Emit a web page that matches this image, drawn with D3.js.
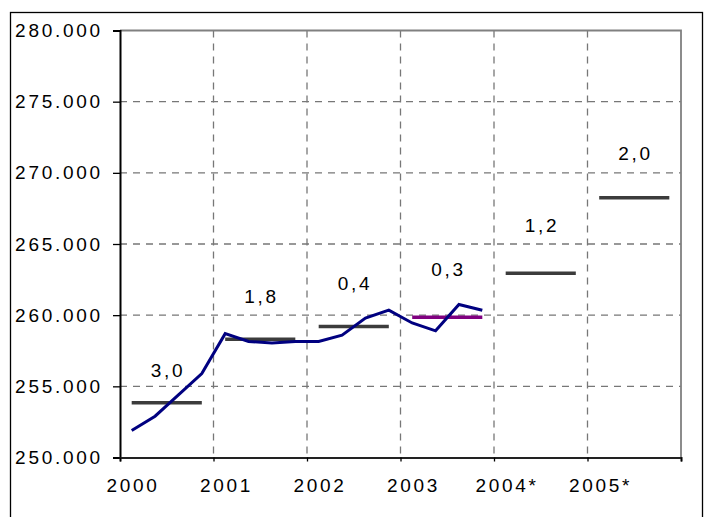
<!DOCTYPE html>
<html>
<head>
<meta charset="utf-8">
<script src="https://cdn.jsdelivr.net/npm/d3@7"></script>
<style>
  html, body { margin: 0; padding: 0; background: #fff; }
  svg { display: block; }
  text { font-family: "Liberation Sans", Arial, sans-serif; fill: #000; }
</style>
</head>
<body>
<svg id="chart" width="704" height="517"></svg>
<script>
// ---- data ----
const years = ["2000", "2001", "2002", "2003", "2004*", "2005*"];
// quarterly values (thousands)
const quarterly = [251.9, 252.9, 254.4, 255.9, 258.7, 258.15, 258.05, 258.15,
                   258.15, 258.6, 259.8, 260.35, 259.45, 258.9, 260.75, 260.35];
// annual averages (thousands)
const annual = [253.85, 258.3, 259.2, 259.85, 262.95, 268.25];
// growth rates shown above each year
const growth = ["3,0", "1,8", "0,4", "0,3", "1,2", "2,0"];
// vertical position of each growth label (in value units)
const growthAt = [256.1, 261.3, 262.25, 263.2, 266.3, 271.4];
const yTicks = [250, 255, 260, 265, 270, 275, 280];

// ---- layout ----
const svg = d3.select("#chart");
const mLeft = 120, mRight = 681, mTop = 30.5, mBottom = 457.5;
const qPerYear = 4;
const fs = 19, ls = 2.7;

const x = d3.scaleLinear().domain([0, years.length * qPerYear]).range([mLeft, mRight]);
const y = d3.scaleLinear().domain([250, 280]).range([mBottom, mTop]);

const de = d3.formatLocale({decimal: ",", thousands: ".", grouping: [3], currency: ["", "€"]});
const fmt = de.format(",.0f");

// outer border
svg.append("rect").attr("x", 10.5).attr("y", 12.5).attr("width", 692).attr("height", 520)
  .attr("fill", "none").attr("stroke", "#000").attr("stroke-width", 1.3);

// gridlines
const grid = svg.append("g");
grid.selectAll("line.h").data(yTicks.filter(t => t > 250 && t < 280)).join("line")
  .attr("x1", mLeft).attr("x2", mRight)
  .attr("y1", d => y(d)).attr("y2", d => y(d))
  .attr("stroke", "#777").attr("stroke-width", 1.3).attr("stroke-dasharray", "7,6");
grid.selectAll("line.v").data(d3.range(1, years.length)).join("line")
  .attr("x1", d => x(d * qPerYear)).attr("x2", d => x(d * qPerYear))
  .attr("y1", mTop).attr("y2", mBottom)
  .attr("stroke", "#777").attr("stroke-width", 1.3).attr("stroke-dasharray", "7,6");

// top & right plot border
svg.append("path").attr("d", `M${mLeft},${mTop}H${mRight}V${mBottom}`)
  .attr("fill", "none").attr("stroke", "#808080").attr("stroke-width", 1.8);

// y axis
const yAxis = d3.axisLeft(y).tickValues(yTicks).tickSize(7).tickFormat(d => fmt(d * 1000));
const gy = svg.append("g").attr("transform", `translate(${mLeft},0)`).call(yAxis);
gy.select(".domain").attr("stroke", "#000").attr("stroke-width", 2);
gy.selectAll(".tick line").attr("stroke", "#000").attr("stroke-width", 1.3);
gy.selectAll(".tick text").attr("x", -20 + ls).attr("font-size", fs).attr("letter-spacing", ls)
  .attr("font-family", "Liberation Sans, Arial, sans-serif").attr("fill", "#000");

// x axis
const xAxis = d3.axisBottom(x).tickValues(d3.range(0, years.length + 1).map(d => d * qPerYear))
  .tickSize(4).tickFormat("");
const gx = svg.append("g").attr("transform", `translate(0,${mBottom})`).call(xAxis);
gx.select(".domain").attr("stroke", "#222").attr("stroke-width", 2);
gx.selectAll(".tick line").attr("stroke", "#000").attr("stroke-width", 1.3);

svg.append("g").selectAll("text").data(years).join("text")
  .attr("x", (d, i) => x(i * qPerYear + 0.5) + ls / 2)
  .attr("y", 491.5)
  .attr("text-anchor", "middle").attr("font-size", fs).attr("letter-spacing", ls)
  .text(d => d);

// annual average bars
svg.append("g").selectAll("line").data(annual).join("line")
  .attr("x1", (d, i) => x(i * qPerYear + 0.5))
  .attr("x2", (d, i) => x(i * qPerYear + 3.5))
  .attr("y1", d => y(d)).attr("y2", d => y(d))
  .attr("stroke", (d, i) => i === 3 ? "#800080" : "#3c3c3c")
  .attr("stroke-width", 3.5);

// quarterly line
const line = d3.line().x((d, i) => x(i + 0.5)).y(d => y(d));
svg.append("path").datum(quarterly).attr("d", line)
  .attr("fill", "none").attr("stroke", "#000080").attr("stroke-width", 3)
  .attr("stroke-linejoin", "miter");

// growth labels
svg.append("g").selectAll("text").data(growth).join("text")
  .attr("x", (d, i) => x(i * qPerYear + 2) + ls / 2)
  .attr("y", (d, i) => y(growthAt[i]))
  .attr("dy", "0.35em")
  .attr("text-anchor", "middle").attr("font-size", fs).attr("letter-spacing", ls)
  .text(d => d);
</script>
</body>
</html>
